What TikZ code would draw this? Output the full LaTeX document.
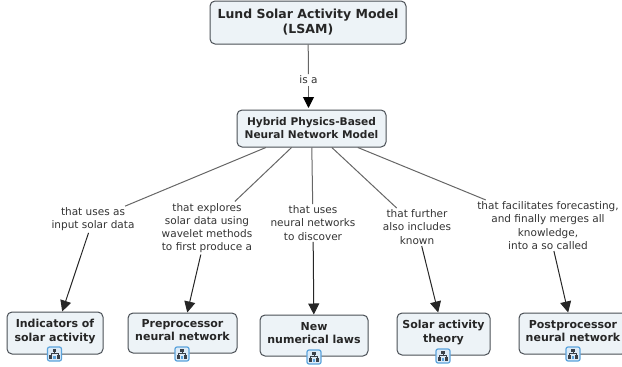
\documentclass[tikz,border=0pt]{standalone}
\usepackage{fontspec}
\setmainfont{DejaVu Sans}
\usetikzlibrary{arrows.meta}
\definecolor{boxfill}{HTML}{EDF3F7}
\definecolor{boxline}{HTML}{4A4F55}
\definecolor{linkc}{HTML}{666666}
\definecolor{iconb}{HTML}{5BA3DC}
\definecolor{iconf}{HTML}{DDEBF7}
\definecolor{icond}{HTML}{3A4048}
\tikzset{
  x=1pt,y=-1pt,
  concept/.style={draw=boxline,fill=boxfill,rounded corners=5pt,line width=1pt,align=center,
    font=\fontsize{11}{13.2}\selectfont\bfseries,text=black!85,inner sep=0pt,anchor=center},
  lowered/.style={text depth=5.5pt},
  linklabel/.style={align=center,font=\fontsize{10.5}{13.2}\selectfont,text=black!80,inner sep=1.5pt},
  plain/.style={draw=linkc,line width=1pt},
  arrowed/.style={draw=black!85,line width=1pt,-{Triangle[length=11pt,width=11pt]}},
  grayarrowed/.style={draw=linkc,line width=1pt,-{Triangle[length=11pt,width=11pt,black]}},
  iconbox/.style={draw=iconb,fill=iconf,rounded corners=2pt,line width=1.2pt,minimum width=14pt,minimum height=14pt,inner sep=0pt},
}
\newcommand{\mapicon}[2]{%
  \node[iconbox] (#2) at (#1) {};
  \begin{scope}[shift={(#1)}]
    \fill[icond] (-1.8,-5) rectangle (1.8,-2.2);
    \draw[icond,line width=.6pt] (0,-2.2) -- (0,-0.5) (-3.7,1) -- (-3.7,-0.5) -- (3.7,-0.5) -- (3.7,1);
    \fill[icond] (-5.2,1) rectangle (-2.2,4.6);
    \fill[iconb] (-1.4,1.6) rectangle (1.4,4.6);
    \fill[icond] (2.2,1) rectangle (5.2,4.6);
  \end{scope}
}
\begin{document}
\begin{tikzpicture}
\useasboundingbox (0,0) rectangle (622,367);
\node[concept,font=\fontsize{12.5}{15}\selectfont\bfseries,minimum width=196pt,minimum height=43pt] (lsam) at (308,22.5) {Lund Solar Activity Model\\(LSAM)};
\node[concept,font=\fontsize{10.6}{13}\selectfont\bfseries,minimum width=149pt,minimum height=37pt] (hyb) at (311.5,128.5) {Hybrid Physics-Based\\Neural Network Model};
\node[concept,lowered,minimum width=96pt,minimum height=42pt] (c1) at (55,333) {Indicators of\\solar activity};
\node[concept,lowered,minimum width=109pt,minimum height=40pt] (c2) at (182.5,333) {Preprocessor\\neural network};
\node[concept,lowered,minimum width=108pt,minimum height=41pt] (c3) at (314,335.5) {New\\numerical laws};
\node[concept,lowered,minimum width=93pt,minimum height=42pt] (c4) at (443.5,334) {Solar activity\\theory};
\node[concept,lowered,minimum width=108pt,minimum height=41pt] (c5) at (573,333.5) {Postprocessor\\neural network};
\node[linklabel,fill=white] (l0) at (308.5,80) {is a};
\node[linklabel] (l1) at (93,219.5) {that uses as\\input solar data};
\node[linklabel] (l2) at (207,228) {that explores\\solar data using\\wavelet methods\\to first produce a};
\node[linklabel] (l3) at (313,223) {that uses\\neural networks\\to discover};
\node[linklabel] (l4) at (417,227) {that further\\also includes\\known};
\node[linklabel] (l5) at (548,225.5) {that facilitates forecasting,\\and finally merges all\\knowledge,\\into a so called};
\draw[plain] (lsam) -- (l0);
\draw[grayarrowed,shorten >=1.5pt] (l0) -- (l0 |- hyb.north);
\foreach \i in {1,...,5}{
  \draw[plain] (hyb) -- (l\i);
  \draw[arrowed] (l\i) -- (c\i);
}
\mapicon{54.5,354}{i1}
\mapicon{182,354}{i2}
\mapicon{314,357}{i3}
\mapicon{443,356}{i4}
\mapicon{573,354}{i5}
\end{tikzpicture}
\end{document}
